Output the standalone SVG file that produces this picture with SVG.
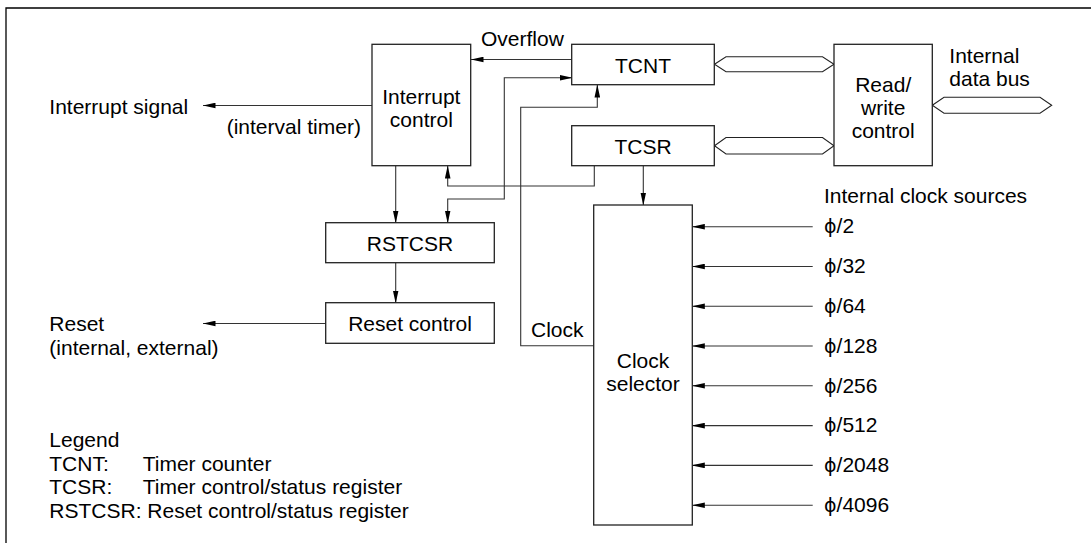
<svg xmlns="http://www.w3.org/2000/svg" width="1091" height="547" viewBox="0 0 1091 547">
<defs>
<marker id="ah" markerWidth="13" markerHeight="6" refX="12.5" refY="3" orient="auto" markerUnits="userSpaceOnUse">
<path d="M0,0.2 L13,3 L0,5.8 Z" fill="#000"/>
</marker>
<marker id="ahs" markerWidth="13" markerHeight="6" refX="0.5" refY="3" orient="auto" markerUnits="userSpaceOnUse">
<path d="M13,0.2 L0,3 L13,5.8 Z" fill="#000"/>
</marker>
</defs>
<style>
text{font-family:"Liberation Sans",Arial,sans-serif;font-size:21px;fill:#000}
.c{text-anchor:middle}
.phi{font-family:"DejaVu Sans",sans-serif;font-size:19px}
.box{fill:#fff;stroke:#222;stroke-width:1.3}
.ln{fill:none;stroke:#333;stroke-width:1.1}
.bus{fill:#fff;stroke:#222;stroke-width:1.1}
</style>
<rect width="1091" height="547" fill="#fff"/>
<path d="M6,543 V8 H1091" fill="none" stroke="#000" stroke-width="1.3"/>

<g id="connectors">
<line class="ln" x1="572" y1="59.5" x2="471" y2="59.5" marker-end="url(#ah)"/>
<line class="ln" x1="372" y1="105.5" x2="203" y2="105.5" marker-end="url(#ah)"/>
<line class="ln" x1="395.7" y1="166" x2="395.7" y2="223" marker-end="url(#ah)"/>
<line class="ln" x1="395.7" y1="263" x2="395.7" y2="303" marker-end="url(#ah)"/>
<line class="ln" x1="326" y1="323.5" x2="203" y2="323.5" marker-end="url(#ah)"/>
<polyline class="ln" points="594.3,166 594.3,186 447.7,186 447.7,166" marker-end="url(#ah)"/>
<polyline class="ln" points="572,77.7 504.3,77.7 504.3,199 447.7,199 447.7,223" marker-start="url(#ahs)" marker-end="url(#ah)"/>
<polyline class="ln" points="594,345.7 520.7,345.7 520.7,107.3 597.3,107.3 597.3,85" marker-end="url(#ah)"/>
<line class="ln" x1="643.3" y1="166" x2="643.3" y2="205" marker-end="url(#ah)"/>
<line class="ln" x1="812.7" y1="226.7" x2="692.3" y2="226.7" marker-end="url(#ah)"/>
<line class="ln" x1="812.7" y1="266.5" x2="692.3" y2="266.5" marker-end="url(#ah)"/>
<line class="ln" x1="812.7" y1="306.3" x2="692.3" y2="306.3" marker-end="url(#ah)"/>
<line class="ln" x1="812.7" y1="346" x2="692.3" y2="346" marker-end="url(#ah)"/>
<line class="ln" x1="812.7" y1="385.8" x2="692.3" y2="385.8" marker-end="url(#ah)"/>
<line class="ln" x1="812.7" y1="425.6" x2="692.3" y2="425.6" marker-end="url(#ah)"/>
<line class="ln" x1="812.7" y1="465.4" x2="692.3" y2="465.4" marker-end="url(#ah)"/>
<line class="ln" x1="812.7" y1="505.2" x2="692.3" y2="505.2" marker-end="url(#ah)"/>
<polygon class="bus" points="714.5,64.2 726,56.7 822.5,56.7 834,64.2 822.5,71.7 726,71.7"/>
<polygon class="bus" points="714.5,145.7 726,137.5 822.5,137.5 834,145.7 822.5,154 726,154"/>
<polygon class="bus" points="932.3,105.3 944,97.3 1040,97.3 1051.7,105.3 1040,113.3 944,113.3"/>
<text x="481" y="45.5">Overflow</text>
<text x="226.7" y="133.5">(interval timer)</text>
<text x="531" y="336.7">Clock</text>
</g>

<g id="interrupt-control">
<rect class="box" x="372" y="44.3" width="98.7" height="121.4"/>
<text class="c" x="421.3" y="104">Interrupt</text>
<text class="c" x="421.3" y="127">control</text>
</g>
<g id="tcnt">
<rect class="box" x="571.7" y="44.3" width="142.6" height="40.4"/>
<text class="c" x="643" y="72.5">TCNT</text>
</g>
<g id="tcsr">
<rect class="box" x="571.7" y="125.7" width="142.6" height="40"/>
<text class="c" x="643" y="153.5">TCSR</text>
</g>
<g id="read-write-control">
<rect class="box" x="834" y="44.3" width="98.3" height="121.4"/>
<text class="c" x="883.2" y="91.7">Read/</text>
<text class="c" x="883.2" y="114.5">write</text>
<text class="c" x="883.2" y="137.5">control</text>
</g>
<g id="rstcsr">
<rect class="box" x="325.7" y="222.7" width="168.6" height="40"/>
<text class="c" x="410" y="250.5">RSTCSR</text>
</g>
<g id="reset-control">
<rect class="box" x="325.7" y="302.7" width="168.6" height="40.6"/>
<text class="c" x="410" y="330.5">Reset control</text>
</g>
<g id="clock-selector">
<rect class="box" x="593.7" y="205" width="98.6" height="320"/>
<text class="c" x="643" y="367.5">Clock</text>
<text class="c" x="643" y="391">selector</text>
</g>

<g id="labels">
<text x="49.3" y="114.3">Interrupt signal</text>
<text x="49.3" y="331">Reset</text>
<text x="49.3" y="355">(internal, external)</text>
<text x="949.3" y="63.3">Internal</text>
<text x="949.3" y="86">data bus</text>
<text x="824" y="203.3">Internal clock sources</text>
<text x="824" y="233.4"><tspan class="phi">ϕ</tspan>/2</text>
<text x="824" y="273.2"><tspan class="phi">ϕ</tspan>/32</text>
<text x="824" y="313"><tspan class="phi">ϕ</tspan>/64</text>
<text x="824" y="352.7"><tspan class="phi">ϕ</tspan>/128</text>
<text x="824" y="392.5"><tspan class="phi">ϕ</tspan>/256</text>
<text x="824" y="432.3"><tspan class="phi">ϕ</tspan>/512</text>
<text x="824" y="472.1"><tspan class="phi">ϕ</tspan>/2048</text>
<text x="824" y="511.9"><tspan class="phi">ϕ</tspan>/4096</text>
<text x="49.3" y="446.7">Legend</text>
<text x="49.3" y="470.5">TCNT:</text>
<text x="142.7" y="470.5">Timer counter</text>
<text x="49.3" y="494.2">TCSR:</text>
<text x="142.7" y="494.2">Timer control/status register</text>
<text x="49.3" y="518">RSTCSR: Reset control/status register</text>
</g>
</svg>
